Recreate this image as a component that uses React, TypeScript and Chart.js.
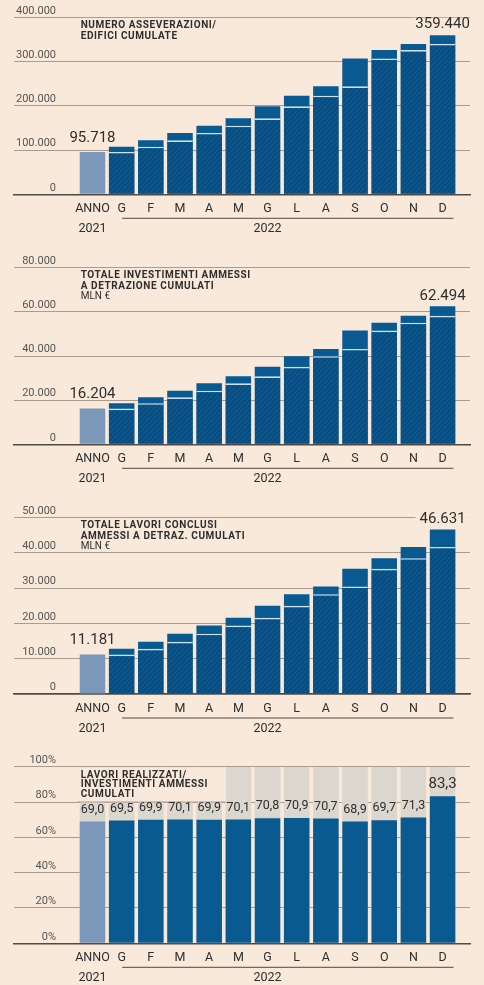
import React, { useEffect, useRef } from 'react';
import { Chart, registerables } from 'chart.js';

Chart.register(...registerables);

// ---------- data ----------
const categories = ['ANNO', 'G', 'F', 'M', 'A', 'M', 'G', 'L', 'A', 'S', 'O', 'N', 'D'];
const firstYear = '2021';
const secondYear = '2022';

const asseverazioni = [95718, 107600, 122000, 138500, 155000, 171700, 198900, 222900, 244000, 307000, 326000, 339700, 359440];
const investimenti = [16204, 18600, 21300, 24300, 27600, 30800, 35100, 39900, 43200, 51500, 55100, 58200, 62494];
const lavori = [11181, 12800, 14800, 17100, 19400, 21600, 25000, 28300, 30500, 35500, 38500, 41700, 46631];
const rapporto = [69.0, 69.5, 69.9, 70.1, 69.9, 70.1, 70.8, 70.9, 70.7, 68.9, 69.7, 71.3, 83.3];

const titleAsseverazioni = ['NUMERO ASSEVERAZIONI/', 'EDIFICI CUMULATE'];
const titleInvestimenti = ['TOTALE INVESTIMENTI AMMESSI', 'A DETRAZIONE CUMULATI'];
const titleLavori = ['TOTALE LAVORI CONCLUSI', 'AMMESSI A DETRAZ. CUMULATI'];
const titleRapporto = ['LAVORI REALIZZATI/', 'INVESTIMENTI AMMESSI', 'CUMULATI'];
const unitLabel = 'MLN €';

// ---------- style ----------
const BG = '#f8e9da';
const SOLID = '#0a5a92';
const ANNO_C = '#7b97b9';
const HATCH_BASE = '#0b568d';
const HATCH_LINE = '#094774';
const SEP = '#cfe1ec';
const GRID = '#a89c90';
const AXIS = '#4f4a45';
const GRAYCOL = '#dbd7ce';
const TEXT = '#2e2e2e';
const TICKTXT = '#555555';
const FONT = 'Roboto';

const X_MIN = -2.69;
const X_MAX = 12.94;

type PanelCfg = {
  key: string;
  title: string[];
  unit?: string;
  values: number[];
  max: number;
  step: number;
  ratio: boolean;
  height: number;
  top: number;
  bottom: number;
  lineGap: number;
};

const panels: PanelCfg[] = [
  { key: 'p1', title: titleAsseverazioni, values: asseverazioni, max: 400000, step: 100000, ratio: false, height: 250, top: 17.3, bottom: 194.3, lineGap: 10.8 },
  { key: 'p2', title: titleInvestimenti, unit: unitLabel, values: investimenti, max: 80000, step: 20000, ratio: false, height: 250, top: 17.7, bottom: 194.3, lineGap: 10.8 },
  { key: 'p3', title: titleLavori, unit: unitLabel, values: lavori, max: 50000, step: 10000, ratio: false, height: 250, top: 17.7, bottom: 194, lineGap: 10.8 },
  { key: 'p4', title: titleRapporto, values: rapporto, max: 100, step: 20, ratio: true, height: 235, top: 16.7, bottom: 193.3, lineGap: 9.9 },
];

const fmtInt = (v: number) => String(Math.round(v)).replace(/\B(?=(\d{3})+(?!\d))/g, '.');
const fmtPct = (v: number) => v.toFixed(1).replace('.', ',');

function makeHatch(ctx: CanvasRenderingContext2D): CanvasPattern | string {
  const c = document.createElement('canvas');
  c.width = 5;
  c.height = 5;
  const g = c.getContext('2d');
  if (!g) return HATCH_BASE;
  g.fillStyle = HATCH_BASE;
  g.fillRect(0, 0, 5, 5);
  g.strokeStyle = HATCH_LINE;
  g.lineWidth = 1.1;
  g.beginPath();
  g.moveTo(-1, 6); g.lineTo(6, -1);
  g.moveTo(-1, 1); g.lineTo(1, -1);
  g.moveTo(4, 6); g.lineTo(6, 4);
  g.stroke();
  return ctx.createPattern(c, 'repeat') || HATCH_BASE;
}

function overlayPlugin(cfg: PanelCfg) {
  return {
    id: 'overlay_' + cfg.key,
    afterDraw(chart: any) {
      const { ctx, chartArea, scales } = chart;
      const xs = scales.x;
      const ys = scales.y;
      ctx.save();

      // y tick labels above the grid lines
      ctx.font = `11px ${FONT}`;
      ctx.fillStyle = TICKTXT;
      ctx.textAlign = 'right';
      ctx.textBaseline = 'middle';
      ys.ticks.forEach((t: any) => {
        const py = ys.getPixelForValue(t.value);
        ctx.fillText(cfg.ratio ? `${t.value}%` : fmtInt(t.value), 56, py - 6.5);
      });

      const valMeta = chart.getDatasetMeta(cfg.ratio ? 1 : 0);
      const bars = valMeta.data as any[];

      // title box for ratio panel
      if (cfg.ratio) {
        const left = bars[0].x - bars[0].width / 2 - 2;
        const right = bars[5].x - bars[5].width / 2;
        const top = ys.getPixelForValue(100) + 0.6;
        const bot = ys.getPixelForValue(80);
        ctx.fillStyle = BG;
        ctx.fillRect(left, top, right - left, bot - top);
        ctx.strokeStyle = GRID;
        ctx.lineWidth = 1;
        ctx.beginPath();
        ctx.moveTo(left, bot);
        ctx.lineTo(right, bot);
        ctx.stroke();
      }

      // title
      ctx.textAlign = 'left';
      ctx.textBaseline = 'middle';
      ctx.fillStyle = TEXT;
      ctx.font = `bold 10px ${FONT}`;
      (ctx as any).letterSpacing = '0.6px';
      const y0 = cfg.ratio ? 25 : 25.3;
      cfg.title.forEach((line, i) => ctx.fillText(line, 80.7, y0 + i * cfg.lineGap));
      (ctx as any).letterSpacing = '0px';
      if (cfg.unit) {
        ctx.font = `10px ${FONT}`;
        ctx.fillText(cfg.unit, 80.7, y0 + cfg.title.length * cfg.lineGap);
      }

      // value labels
      ctx.textAlign = 'center';
      ctx.fillStyle = TEXT;
      if (cfg.ratio) {
        bars.forEach((b: any, i: number) => {
          const last = i === bars.length - 1;
          ctx.font = `${last ? 15 : 12.5}px ${FONT}`;
          ctx.fillText(fmtPct(cfg.values[i]), b.x, b.y - 12);
        });
      } else {
        const first = bars[0];
        const last = bars[bars.length - 1];
        ctx.font = `15px ${FONT}`;
        ctx.fillText(fmtInt(cfg.values[0]), first.x, first.y - 14);
        const txt = fmtInt(cfg.values[cfg.values.length - 1]);
        const w = ctx.measureText(txt).width;
        ctx.fillStyle = BG;
        ctx.fillRect(last.x - w / 2 - 4, last.y - 10.5 - 7, w + 8, 14);
        ctx.fillStyle = TEXT;
        ctx.fillText(txt, last.x, last.y - 10.5);
      }

      // second year label and bracket line
      const lineY = chartArea.bottom + 24;
      ctx.strokeStyle = AXIS;
      ctx.lineWidth = 1;
      ctx.beginPath();
      ctx.moveTo(xs.getPixelForValue(1) + 0.5, lineY);
      ctx.lineTo(xs.getPixelForValue(12) + 11, lineY);
      ctx.stroke();
      ctx.font = `12.5px ${FONT}`;
      ctx.fillStyle = TEXT;
      ctx.textAlign = 'center';
      ctx.fillText(secondYear, xs.getPixelForValue(6), chartArea.bottom + 34.5);

      ctx.restore();
    },
  };
}

function buildConfig(cfg: PanelCfg, canvas: HTMLCanvasElement): any {
  const ctx = canvas.getContext('2d') as CanvasRenderingContext2D;
  const hatch = makeHatch(ctx);
  const colorsMain = cfg.values.map((_, i) => (i === 0 ? ANNO_C : SOLID));

  const datasets: any[] = cfg.ratio
    ? [
        {
          label: 'fondo',
          data: cfg.values.map((_, i) => ({ x: i, y: 100 })),
          backgroundColor: GRAYCOL,
          order: 2,
          barPercentage: 0.875,
          categoryPercentage: 1,
        },
        {
          label: 'rapporto',
          data: cfg.values.map((v, i) => ({ x: i, y: v })),
          backgroundColor: colorsMain,
          order: 1,
          barPercentage: 0.875,
          categoryPercentage: 1,
        },
      ]
    : [
        {
          label: 'cumulato',
          data: cfg.values.map((v, i) => ({ x: i, y: v })),
          backgroundColor: colorsMain,
          order: 2,
          barPercentage: 0.875,
          categoryPercentage: 1,
        },
        {
          label: 'mese precedente',
          data: cfg.values.slice(1).map((_, k) => ({ x: k + 1, y: cfg.values[k] })),
          backgroundColor: hatch,
          borderColor: SEP,
          borderWidth: { top: 1.6, left: 0, right: 0, bottom: 0 },
          borderSkipped: false,
          order: 1,
          barPercentage: 0.875,
          categoryPercentage: 1,
        },
      ];

  return {
    type: 'bar',
    data: { datasets },
    options: {
      animation: false,
      responsive: true,
      maintainAspectRatio: false,
      layout: { padding: { left: 14, right: 14, top: cfg.top, bottom: 0 } },
      plugins: { legend: { display: false }, tooltip: { enabled: false } },
      scales: {
        x: {
          type: 'linear',
          min: X_MIN,
          max: X_MAX,
          stacked: true,
          offset: false,
          z: 1,
          grid: { display: false, drawTicks: false },
          border: { display: true, color: AXIS, width: 1.5 },
          afterBuildTicks: (s: any) => {
            s.ticks = categories.map((_, i) => ({ value: i }));
          },
          afterFit: (s: any) => {
            s.height = cfg.height - cfg.bottom;
          },
          ticks: {
            autoSkip: false,
            maxRotation: 0,
            minRotation: 0,
            padding: 4.5,
            color: TEXT,
            font: { family: FONT, size: 12.5, lineHeight: 1.6 },
            callback: (_v: any, index: number) => (index === 0 ? [categories[0], firstYear] : categories[index]),
          },
        },
        y: {
          min: 0,
          max: cfg.max,
          stacked: false,
          ticks: { stepSize: cfg.step, display: false },
          grid: { color: GRID, lineWidth: 1, drawTicks: false },
          border: { display: false },
        },
      },
    },
    plugins: [overlayPlugin(cfg)],
  };
}

function Panel({ cfg }: { cfg: PanelCfg }) {
  const ref = useRef<HTMLCanvasElement | null>(null);
  useEffect(() => {
    if (!ref.current) return;
    const chart = new Chart(ref.current, buildConfig(cfg, ref.current));
    return () => chart.destroy();
  }, [cfg]);
  return (
    <div style={{ position: 'relative', width: 484, height: cfg.height }}>
      <canvas ref={ref} />
    </div>
  );
}

export default function App() {
  useEffect(() => {
    document.body.style.margin = '0';
    document.body.style.background = BG;
  }, []);
  return (
    <div style={{ width: 484, background: BG }}>
      {panels.map((p) => (
        <Panel key={p.key} cfg={p} />
      ))}
    </div>
  );
}
